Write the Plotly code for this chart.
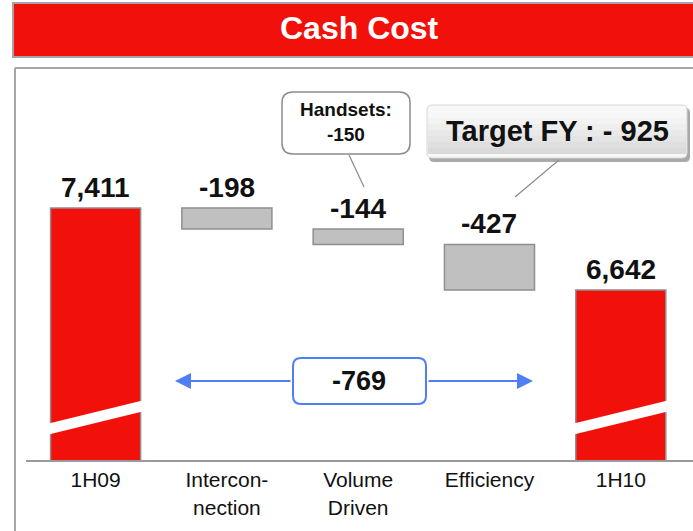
import plotly.graph_objects as go

# ---- data ----
categories = ["1H09", "Intercon-<br>nection", "Volume<br>Driven", "Efficiency", "1H10"]
values = [7411, -198, -144, -427, 6642]
measures = ["absolute", "relative", "relative", "relative", "total"]
value_labels = ["7,411", "-198", "-144", "-427", "6,642"]
title_text = "Cash Cost"
handsets_text = "Handsets:<br>-150"
target_text = "Target FY : - 925"
change_text = "-769"

RED = "#f2100a"
GRAY_FILL = "#c0c0c0"
GRAY_LINE = "#8f8f8f"
BLUE = "#4f7ef7"

W, H = 693, 531
ML, MR, MT, MB = 26, 0, 70, 71
PW = W - ML - MR
PH = H - MT - MB


def px(x):
    return (x - ML) / PW


def py(y):
    return (H - MB - y) / PH


def rrect(x0, y0, x1, y1, r):
    # rounded rectangle path in paper coords from pixel coords
    pts = [
        f"M {px(x0 + r)} {py(y0)}",
        f"L {px(x1 - r)} {py(y0)}",
        f"Q {px(x1)} {py(y0)} {px(x1)} {py(y0 + r)}",
        f"L {px(x1)} {py(y1 - r)}",
        f"Q {px(x1)} {py(y1)} {px(x1 - r)} {py(y1)}",
        f"L {px(x0 + r)} {py(y1)}",
        f"Q {px(x0)} {py(y1)} {px(x0)} {py(y1 - r)}",
        f"L {px(x0)} {py(y0 + r)}",
        f"Q {px(x0)} {py(y0)} {px(x0 + r)} {py(y0)}",
        "Z",
    ]
    return " ".join(pts)


# bar tops computed from the data
tops = []
running = 0
for v, m in zip(values, measures):
    if m == "absolute":
        running = v
        tops.append(running)
    elif m == "relative":
        tops.append(running if v < 0 else running + v)
        running += v
    else:
        tops.append(running)

bar_w = 0.686

fig = go.Figure(
    go.Waterfall(
        x=categories,
        y=values,
        measure=measures,
        width=bar_w,
        textinfo="none",
        connector=dict(visible=False),
        decreasing=dict(marker=dict(color=GRAY_FILL, line=dict(color=GRAY_LINE, width=1.5))),
        increasing=dict(marker=dict(color=GRAY_FILL, line=dict(color=GRAY_LINE, width=1.5))),
        totals=dict(marker=dict(color=RED, line=dict(color=GRAY_LINE, width=1.5))),
        hoverinfo="skip",
        cliponaxis=True,
    )
)

shapes = []
annotations = []

# title bar
shapes.append(dict(type="rect", xref="paper", yref="paper",
                   x0=px(13), x1=px(697), y0=py(3), y1=py(57),
                   fillcolor=RED, line=dict(color="#a6a6a6", width=2), layer="below"))
annotations.append(dict(xref="paper", yref="paper", x=px(359), y=py(28),
                        text=f"<b>{title_text}</b>", showarrow=False,
                        font=dict(family="Liberation Sans, Arial", size=32, color="white"),
                        xanchor="center", yanchor="middle"))

# panel border (left + top)
shapes.append(dict(type="line", xref="paper", yref="paper",
                   x0=px(15), x1=px(15), y0=py(68), y1=py(540),
                   line=dict(color="#a6a6a6", width=2), layer="below"))
shapes.append(dict(type="line", xref="paper", yref="paper",
                   x0=px(15), x1=px(700), y0=py(68), y1=py(68),
                   line=dict(color="#a6a6a6", width=2), layer="below"))

# axis break bands on the total bars
for i, m in enumerate(measures):
    if m in ("absolute", "total"):
        xl = i - bar_w / 2 - 0.03
        xr = i + bar_w / 2 + 0.03
        path = (f"M {xl} {py(424)} L {xr} {py(400)} L {xr} {py(411)} "
                f"L {xl} {py(435)} Z")
        shapes.append(dict(type="path", xref="x", yref="paper", path=path,
                           fillcolor="white", line=dict(width=0), layer="above"))

# value labels
for i, (t, lab) in enumerate(zip(tops, value_labels)):
    annotations.append(dict(x=i, y=t, xref="x", yref="y",
                            text=f"<b>{lab}</b>",
                            showarrow=False, yanchor="bottom", yshift=3,
                            font=dict(family="Liberation Sans, Arial", size=28,
                                      color="#111111")))

# Handsets callout
shapes.append(dict(type="path", xref="paper", yref="paper",
                   path=rrect(282, 92, 410, 154, 11),
                   fillcolor="white", line=dict(color="#8c8c8c", width=1.5)))
shapes.append(dict(type="line", xref="paper", yref="paper",
                   x0=px(349), y0=py(155), x1=px(364), y1=py(187),
                   line=dict(color="#8c8c8c", width=1.2)))
annotations.append(dict(xref="paper", yref="paper", x=px(346), y=py(122),
                        text=f"<b>{handsets_text}</b>", showarrow=False,
                        font=dict(family="Liberation Sans, Arial", size=19, color="#111111"),
                        xanchor="center", yanchor="middle"))

# Target FY callout
shapes.append(dict(type="path", xref="paper", yref="paper",
                   path=rrect(429, 108, 690, 162, 5),
                   fillcolor="#a9a9a9", line=dict(width=0)))
shapes.append(dict(type="path", xref="paper", yref="paper",
                   path=rrect(427, 105, 687, 158, 5),
                   fillcolor="#f7f7f7", line=dict(color="#d6d6d6", width=1)))
grad = ["#f3f3f3", "#eeeeee", "#e9e9e9", "#e4e4e4", "#dfdfdf", "#dadada"]
for k, c in enumerate(grad):
    y0 = 118 + k * 6
    shapes.append(dict(type="rect", xref="paper", yref="paper",
                       x0=px(428), x1=px(686), y0=py(y0), y1=py(min(y0 + 6, 155)),
                       fillcolor=c, line=dict(width=0)))
shapes.append(dict(type="line", xref="paper", yref="paper",
                   x0=px(559), y0=py(160), x1=px(515), y1=py(197),
                   line=dict(color="#8c8c8c", width=1.2)))
annotations.append(dict(xref="paper", yref="paper", x=px(557), y=py(131),
                        text=f"<b>{target_text}</b>", showarrow=False,
                        font=dict(family="Liberation Sans, Arial", size=29, color="#111111"),
                        xanchor="center", yanchor="middle"))

# -769 change box with arrows
annotations.append(dict(xref="paper", yref="paper", x=px(175), y=py(381),
                        ax=292 - 175, ay=0, text="", showarrow=True,
                        arrowhead=2, arrowsize=1.6, arrowwidth=2, arrowcolor=BLUE,
                        standoff=0))
annotations.append(dict(xref="paper", yref="paper", x=px(533), y=py(381),
                        ax=-(533 - 427), ay=0, text="", showarrow=True,
                        arrowhead=2, arrowsize=1.6, arrowwidth=2, arrowcolor=BLUE,
                        standoff=0))
shapes.append(dict(type="path", xref="paper", yref="paper",
                   path=rrect(293, 358, 426, 404, 8),
                   fillcolor="white", line=dict(color=BLUE, width=2)))
annotations.append(dict(xref="paper", yref="paper", x=px(359), y=py(381),
                        text=f"<b>{change_text}</b>", showarrow=False,
                        font=dict(family="Liberation Sans, Arial", size=27, color="#111111"),
                        xanchor="center", yanchor="middle"))

fig.update_layout(
    width=W, height=H,
    margin=dict(l=ML, r=MR, t=MT, b=MB),
    paper_bgcolor="white", plot_bgcolor="white",
    showlegend=False,
    shapes=shapes,
    annotations=annotations,
    hovermode=False,
    xaxis=dict(type="category", range=[-0.53, 4.55], showgrid=False, zeroline=False,
               showline=True, linecolor="#9a9a9a", linewidth=2, ticks="",
               tickfont=dict(family="Liberation Sans, Arial", size=21, color="#111111"),
               fixedrange=True),
    yaxis=dict(range=[5048, 8705], showgrid=False, zeroline=False, showline=False,
               showticklabels=False, ticks="", fixedrange=True),
)

fig.write_html("out.html",
               config={"displayModeBar": False, "staticPlot": True},
               post_script="document.body.style.margin='0';document.body.style.padding='0';")
